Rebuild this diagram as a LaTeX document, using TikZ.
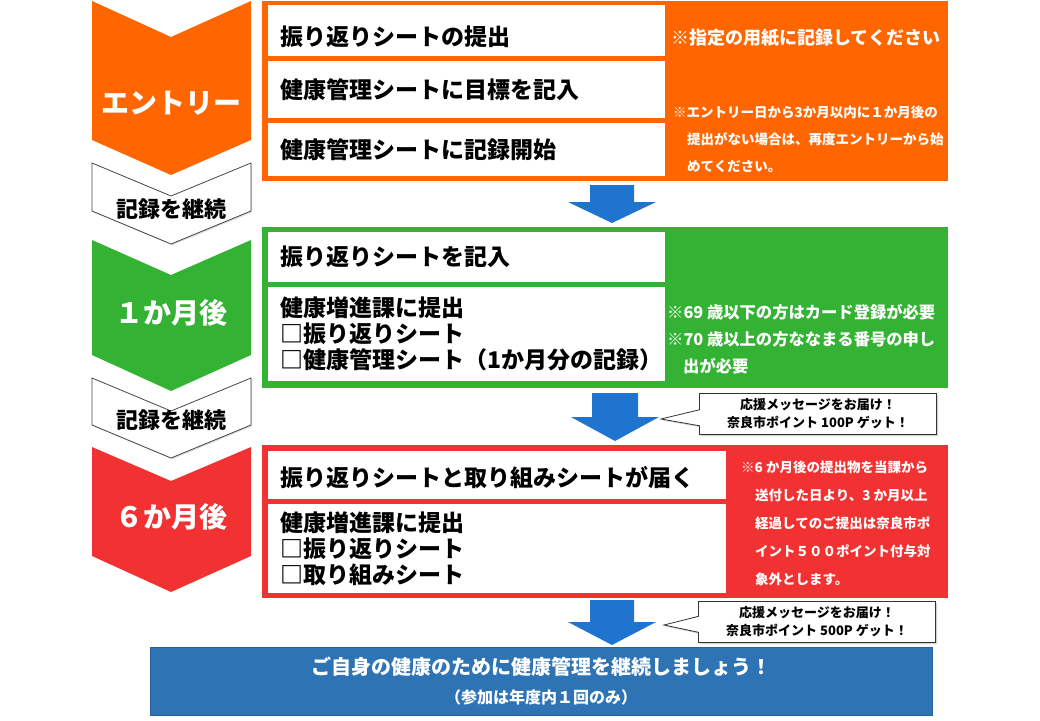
\documentclass[tikz,border=0pt]{standalone}
\usepackage{fontspec}
\newfontfamily\jp{Noto Sans CJK JP}
\usetikzlibrary{shapes.callouts,shadows}
\definecolor{entryorange}{HTML}{FF6600}
\definecolor{monthgreen}{HTML}{33B233}
\definecolor{sixred}{HTML}{F23232}
\definecolor{flowblue}{HTML}{1F74CF}
\definecolor{footblue}{HTML}{2E74B5}

\begin{document}
\begin{tikzpicture}[x=1pt,y=-1pt,every node/.style={font=\jp},
   panel/.style={anchor=north west,inner sep=0pt},
   rowbox/.style={fill=white,anchor=north west,inner xsep=12pt,inner ysep=0pt,align=left,
     font=\jp\bfseries\fontsize{23}{26}\selectfont},
   note/.style={anchor=north west,inner sep=0pt,align=left,text=white,
     font=\jp\bfseries\fontsize{13.5}{27}\selectfont},
   tag/.style={text=white,font=\jp\bfseries\fontsize{28}{30}\selectfont},
   keep/.style={font=\jp\bfseries\fontsize{22}{24}\selectfont},
   chev/.style={draw=gray!55!black,line width=0.8pt,fill=white,
     drop shadow={shadow xshift=1.2pt,shadow yshift=-1.2pt,fill=gray!60}},
   down/.style={fill=flowblue},
   callbox/.style={rectangle callout,draw=black!80,line width=0.8pt,fill=white,
     minimum width=237pt,minimum height=41pt,inner sep=0pt,align=center,callout pointer width=16pt,
     font=\jp\bfseries\fontsize{13}{18}\selectfont,
     drop shadow={shadow xshift=1.5pt,shadow yshift=-1.5pt,fill=gray!70}}]
\useasboundingbox (0,0) rectangle (1040,720);

% step chevrons on the left
\draw[chev] (92,163) -- (171,196) -- (251,163) -- (251,211) -- (171,244) -- (92,211) -- cycle;
\draw[chev] (92,378) -- (171,411) -- (251,378) -- (251,425) -- (171,458) -- (92,425) -- cycle;
\fill[entryorange] (92,1) -- (171,37) -- (251,1) -- (251,140) -- (171,175) -- (92,140) -- cycle;
\fill[monthgreen] (92,240) -- (171,275) -- (251,240) -- (251,355) -- (171,391) -- (92,355) -- cycle;
\fill[sixred] (92,447) -- (171,481) -- (251,447) -- (251,556) -- (171,592) -- (92,556) -- cycle;
\node[tag] (entry) at (171,103) {エントリー};
\node[tag] (month1) at (171,313) {１か月後};
\node[tag] (month6) at (171,517) {６か月後};
\node[keep] (keep1) at (171,209) {記録を継続};
\node[keep] (keep2) at (171,420) {記録を継続};

% entry panel
\node[panel,fill=entryorange,minimum width=686,minimum height=180] (entrypanel) at (262,1) {};
\node[rowbox,minimum height=51,text width=373,text height=33pt,text depth=3pt] (submit) at (268,5) {振り返りシートの提出};
\node[rowbox,minimum height=57,text width=373] (goal) at (268,61) {健康管理シートに目標を記入};
\node[rowbox,minimum height=53,text width=373] (start) at (268,123) {健康管理シートに記録開始};
\node[note,font=\jp\bfseries\fontsize{18}{20}\selectfont] (paper) at (671,29) {※指定の用紙に記録してください};
\node[note] (deadline) at (673,106) {※エントリー日から3か月以内に１か月後の\\
  \hspace*{14pt}提出がない場合は、再度エントリーから始\\
  \hspace*{14pt}めてください。};

% one month panel
\node[panel,fill=monthgreen,minimum width=686,minimum height=161] (monthpanel) at (262,227) {};
\node[rowbox,minimum height=50,text width=373] (fillin) at (268,232) {振り返りシートを記入};
\node[rowbox,minimum height=94,text width=373] (hand1) at (268,287) {健康増進課に提出\\□振り返りシート\\□健康管理シート（1か月分の記録）};
\node[note,font=\jp\bfseries\fontsize{16.3}{27}\selectfont] (card) at (667,304) {※69 歳以下の方はカード登録が必要\\
  ※70 歳以上の方ななまる番号の申し\\
  \hspace*{16pt}出が必要};

% six month panel
\node[panel,fill=sixred,minimum width=686,minimum height=153] (sixpanel) at (262,445) {};
\node[rowbox,minimum height=48,text width=434,text height=26pt,text depth=3pt] (arrive) at (268,451) {振り返りシートと取り組みシートが届く};
\node[rowbox,minimum height=89,text width=434] (hand6) at (268,504) {健康増進課に提出\\□振り返りシート\\□取り組みシート};
\node[note,font=\jp\bfseries\fontsize{13.5}{28}\selectfont] (late) at (741,461) {※6 か月後の提出物を当課から\\
  \hspace*{14pt}送付した日より、3 か月以上\\
  \hspace*{14pt}経過してのご提出は奈良市ポ\\
  \hspace*{14pt}イント５００ポイント付与対\\
  \hspace*{14pt}象外とします。};

% blue arrows between the panels
\fill[down] (590,185) -- (634,185) -- (634,202) -- (656,202) -- (612,223) -- (568,202) -- (590,202) -- cycle;
\fill[down] (592,393) -- (638,393) -- (638,417) -- (659,417) -- (615,441) -- (571,417) -- (592,417) -- cycle;
\fill[down] (590,600) -- (634,600) -- (634,622) -- (656,622) -- (612,645) -- (568,622) -- (590,622) -- cycle;
\coordinate (hook1) at (661,419);
\coordinate (hook2) at (664,625);

% callouts
\node[callbox,callout absolute pointer={(hook1)}] (cheer1) at (818,414) {応援メッセージをお届け！\\奈良市ポイント 100P ゲット！};
\node[callbox,callout absolute pointer={(hook2)}] (cheer2) at (817,622) {応援メッセージをお届け！\\奈良市ポイント 500P ゲット！};

% closing banner
\node[panel,fill=footblue,draw=footblue!85!black,minimum width=782,minimum height=68,align=center,text=white,
  font=\jp\bfseries\fontsize{20}{29}\selectfont] (foot) at (150,647)
  {ご自身の健康のために健康管理を継続しましょう！\\{\fontsize{16}{29}\selectfont （参加は年度内１回のみ）}};
\end{tikzpicture}
\end{document}
